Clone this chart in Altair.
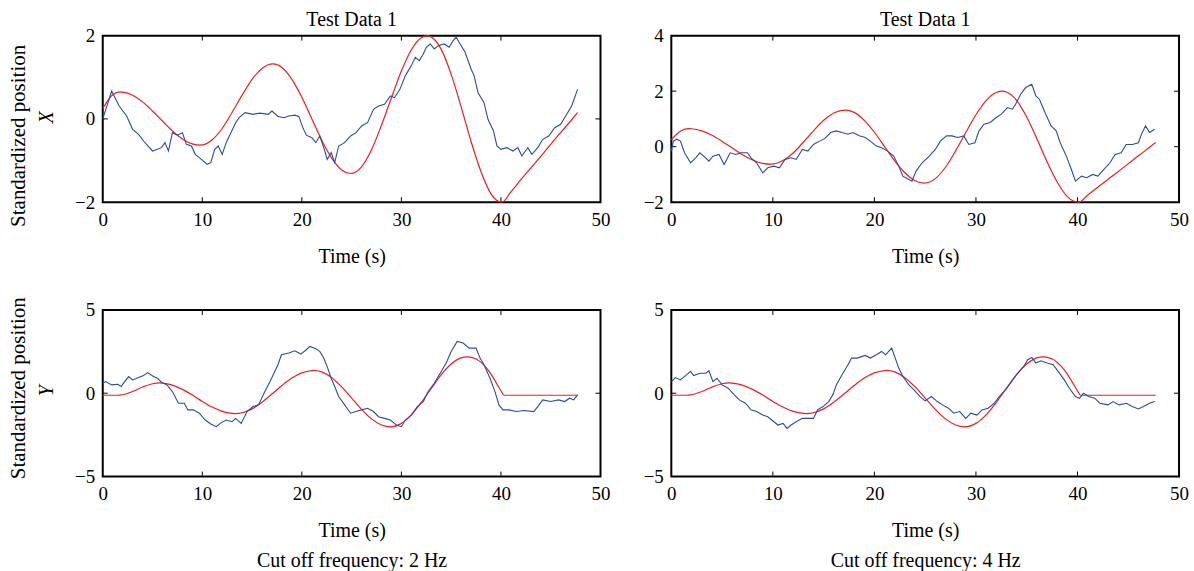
import altair as alt
import pandas as pd

FONT = "Liberation Serif"
BLUE = "#2b4ba0"
RED = "#f01c1c"

# ---------------- data ----------------
# Reference (red) curve, X position (same in both top panels)
RX_T = [0, 1, 1.7, 2, 3, 4, 5, 6, 7, 8, 9, 9.8, 11, 12, 13, 14, 15, 16, 17.1, 18,
        19, 20, 21, 22, 23, 24, 24.9, 26, 27, 28, 29, 30, 31, 32, 32.6, 33, 34, 35, 36, 37,
        38, 39, 40.1, 41, 42, 43, 44, 45, 46, 47, 47.7]
RX_V = [0.25, 0.58, 0.65, 0.645, 0.57, 0.41, 0.19, -0.05, -0.29, -0.48,
        -0.60, -0.63, -0.50, -0.23, 0.16, 0.57, 0.95, 1.21, 1.32, 1.235,
        0.95, 0.52, 0.005, -0.51, -0.94, -1.225, -1.31, -1.15, -0.74, -0.15,
        0.51, 1.15, 1.66, 1.95, 2.0, 1.97, 1.67, 1.07, 0.29, -0.54,
        -1.27, -1.80, -2.0, -1.75, -1.46, -1.18, -0.90, -0.61, -0.33, -0.05, 0.15]

# Reference (red) curve, Y position (same in both bottom panels)
RY_T = [0, 1.5, 2, 3, 4, 5, 5.7, 6, 7, 8, 9, 10, 11, 12, 13, 13.3, 14, 15, 16, 17,
        18, 19, 20, 21, 21.2, 22, 23, 24, 25, 26, 27, 28, 28.9, 30, 31, 32, 33, 34, 35, 36,
        36.6, 37.5, 38, 38.5, 39, 39.5, 40, 40.3, 47.7]
RY_V = [-0.12, -0.12, -0.09, 0.10, 0.37, 0.57, 0.62, 0.61, 0.49, 0.23,
        -0.11, -0.49, -0.83, -1.09, -1.21, -1.22, -1.17, -0.94, -0.54, -0.05,
        0.46, 0.91, 1.22, 1.36, 1.37, 1.28, 0.93, 0.38, -0.29, -0.97,
        -1.54, -1.91, -2.02, -1.81, -1.30, -0.55, 0.29, 1.11, 1.75, 2.12,
        2.18, 2.05, 1.85, 1.55, 1.15, 0.65, 0.15, -0.12, -0.12]

# Measured (blue) X, cut-off 2 Hz
B1_T = [0, 0.9, 1.65, 2.4, 3.0, 3.6, 4.1, 5.0, 5.9, 6.25,
        6.6, 7.0, 7.5, 8.0, 8.4, 8.9, 9.3, 9.9, 10.5, 10.85,
        11.25, 11.6, 12.0, 12.4, 12.8, 13.35, 13.7, 14.3, 15.1, 15.8,
        16.6, 17.0, 17.6, 18.2, 18.7, 19.3, 19.7, 20.1, 20.45, 21.0,
        21.4, 21.8, 22.2, 22.55, 22.95, 23.3, 23.7, 24.3, 24.9, 25.45,
        26.0, 26.6, 27.2, 27.7, 28.3, 28.9, 29.3, 29.85, 30.4, 31.0,
        31.4, 31.8, 32.2, 32.5, 32.9, 33.3, 33.7, 34.3, 34.8, 35.2,
        35.5, 35.8, 36.4, 37.0, 37.3, 37.7, 38.3, 38.7, 39.25, 39.6,
        40.0, 40.6, 41.2, 41.7, 42.1, 42.7, 43.1, 43.7, 44.2, 44.8,
        45.4, 46.0, 46.5, 47.1, 47.7]
B1_V = [0.0, 0.67, 0.31, 0.07, -0.25, -0.37, -0.53, -0.77, -0.69, -0.57,
        -0.77, -0.33, -0.39, -0.33, -0.61, -0.65, -0.85, -0.97, -1.09, -1.05,
        -0.73, -0.65, -0.85, -0.57, -0.37, -0.09, 0.03, 0.15, 0.11, 0.14,
        0.11, 0.19, 0.06, 0.03, 0.07, 0.09, 0.06, -0.21, -0.39, -0.45,
        -0.57, -0.41, -0.69, -0.97, -0.81, -1.05, -0.65, -0.57, -0.41, -0.33,
        -0.17, -0.09, 0.23, 0.31, 0.35, 0.55, 0.51, 0.71, 1.04, 1.28,
        1.48, 1.40, 1.56, 1.72, 1.80, 1.68, 1.76, 1.80, 1.72, 1.88,
        1.96, 1.84, 1.60, 1.20, 1.04, 0.63, 0.39, -0.01, -0.29, -0.65,
        -0.73, -0.69, -0.77, -0.69, -0.89, -0.69, -0.85, -0.69, -0.49, -0.41,
        -0.21, -0.13, 0.07, 0.31, 0.71]

# Measured (blue) X, cut-off 4 Hz
B2_T = [0, 0.2, 0.55, 0.9, 1.3, 1.9, 2.4, 2.8, 3.2, 3.7,
        4.1, 4.7, 5.2, 5.8, 6.35, 6.9, 7.5, 7.85, 8.4, 9.0,
        9.5, 10.1, 10.65, 11.2, 11.8, 12.3, 12.9, 13.45, 14.0, 14.6,
        15.1, 15.7, 16.25, 16.8, 17.4, 17.9, 18.5, 19.1, 19.6, 20.2,
        20.7, 21.3, 21.9, 22.4, 22.8, 23.4, 23.7, 24.1, 24.7, 25.4,
        26.0, 26.5, 27.1, 27.65, 28.2, 28.8, 29.3, 29.9, 30.3, 30.8,
        31.4, 32.0, 32.5, 33.1, 33.6, 34.0, 34.4, 34.9, 35.5, 35.9,
        36.25, 36.8, 37.4, 37.9, 38.3, 38.9, 39.4, 39.8, 40.4, 40.9,
        41.5, 42.0, 42.6, 43.2, 43.7, 44.3, 44.8, 45.4, 46.0, 46.3,
        46.7, 47.1, 47.6]
B2_V = [-0.16, 0.20, 0.27, 0.20, -0.22, -0.58, -0.40, -0.22, -0.34, -0.52,
        -0.34, -0.28, -0.64, -0.22, -0.28, -0.22, -0.22, -0.40, -0.58, -0.94,
        -0.76, -0.70, -0.76, -0.46, -0.40, -0.46, -0.10, -0.16, 0.08, 0.20,
        0.29, 0.51, 0.57, 0.51, 0.45, 0.51, 0.39, 0.33, 0.20, 0.02,
        -0.04, -0.16, -0.34, -0.70, -1.06, -1.18, -1.24, -0.88, -0.58, -0.34,
        -0.10, 0.20, 0.39, 0.39, 0.33, 0.39, 0.08, 0.14, 0.57, 0.81,
        0.87, 1.05, 1.17, 1.41, 1.35, 1.59, 1.89, 2.13, 2.25, 1.83,
        1.71, 1.23, 0.75, 0.57, 0.14, -0.34, -0.82, -1.24, -1.06, -1.12,
        -1.00, -1.06, -0.82, -0.58, -0.28, -0.22, 0.08, 0.08, 0.14, 0.45,
        0.75, 0.51, 0.63]

# Measured (blue) Y, cut-off 2 Hz
B3_T = [0, 0.3, 0.9, 1.5, 1.85, 2.2, 2.6, 3.0, 3.6, 4.1,
        4.5, 5.1, 5.5, 5.9, 6.45, 7.0, 7.6, 8.2, 8.55, 9.1,
        9.7, 10.3, 10.85, 11.4, 11.8, 12.4, 13.0, 13.35, 13.9, 14.5,
        15.1, 15.65, 16.2, 16.8, 17.2, 17.6, 17.95, 18.7, 19.3, 19.9,
        20.45, 20.8, 21.4, 21.8, 22.2, 22.6, 22.95, 23.3, 23.7, 24.3,
        24.9, 25.4, 26.0, 26.6, 27.2, 27.7, 28.3, 28.9, 29.5, 30.0,
        30.4, 31.0, 31.6, 32.2, 32.7, 33.3, 33.9, 34.5, 35.0, 35.6,
        36.2, 36.8, 37.5, 37.9, 38.3, 38.9, 39.4, 39.8, 40.2, 40.8,
        41.55, 42.3, 43.3, 43.7, 44.2, 45.0, 45.8, 46.4, 46.9, 47.3,
        47.7]
B3_V = [0.60, 0.70, 0.50, 0.54, 0.40, 0.70, 1.00, 0.80, 0.94, 1.06,
        1.24, 1.00, 0.90, 0.66, 0.50, 0.10, -0.60, -0.60, -1.00, -1.00,
        -1.20, -1.61, -1.85, -2.01, -1.81, -1.61, -1.71, -1.51, -1.81, -1.10,
        -0.80, -0.70, 0.00, 0.70, 1.20, 1.71, 2.31, 2.41, 2.55, 2.35,
        2.61, 2.81, 2.67, 2.51, 2.11, 1.51, 0.90, 0.40, -0.20, -0.70,
        -1.20, -1.10, -1.00, -0.90, -1.10, -1.41, -1.51, -1.61, -1.91, -2.01,
        -1.61, -1.31, -0.80, -0.50, 0.10, 0.60, 1.20, 1.81, 2.51, 3.11,
        3.01, 2.71, 2.71, 2.11, 1.71, 0.90, 0.10, -0.70, -1.00, -1.00,
        -1.10, -1.04, -1.10, -0.80, -0.40, -0.50, -0.40, -0.50, -0.30, -0.40,
        -0.10]

# Measured (blue) Y, cut-off 4 Hz
B4_T = [0, 0.4, 0.9, 1.5, 1.9, 2.2, 2.8, 3.4, 3.7, 4.1,
        4.5, 5.0, 5.6, 6.2, 6.7, 7.3, 7.85, 8.4, 9.0, 9.5,
        10.1, 10.5, 11.0, 11.4, 11.8, 12.3, 12.9, 13.45, 14.0, 14.4,
        14.95, 15.5, 15.9, 16.25, 16.8, 17.4, 17.75, 18.3, 19.1, 19.6,
        20.2, 20.7, 21.1, 21.7, 22.05, 22.4, 22.8, 23.4, 23.9, 24.5,
        25.0, 25.6, 26.2, 26.7, 27.3, 27.8, 28.4, 29.0, 29.5, 30.1,
        30.6, 31.2, 31.8, 32.3, 32.9, 33.5, 34.1, 34.7, 35.1, 35.5,
        35.9, 36.4, 37.0, 37.6, 38.1, 38.7, 39.2, 39.8, 40.2, 40.6,
        41.1, 41.7, 42.2, 43.0, 43.5, 44.1, 44.8, 45.4, 46.0, 46.5,
        47.1, 47.6]
B4_V = [0.70, 0.94, 0.80, 1.10, 1.31, 1.06, 1.20, 1.20, 1.35, 0.70,
        0.90, 0.50, 0.30, -0.10, -0.40, -0.60, -1.00, -1.10, -1.31, -1.41,
        -1.71, -1.91, -1.81, -2.11, -1.91, -1.71, -1.51, -1.51, -1.51, -1.00,
        -0.80, -0.50, -0.10, 0.50, 1.10, 1.71, 2.11, 2.11, 2.27, 2.11,
        2.31, 2.51, 2.31, 2.71, 2.11, 1.51, 1.00, 0.50, 0.20, -0.20,
        -0.46, -0.20, -0.50, -0.70, -0.90, -1.20, -1.10, -1.51, -1.20, -1.31,
        -1.00, -0.90, -0.60, -0.20, 0.20, 0.70, 1.20, 1.61, 2.01, 2.15,
        1.81, 1.95, 1.81, 1.71, 1.31, 0.80, 0.30, -0.20, -0.30, 0.00,
        -0.20, -0.30, -0.60, -0.70, -0.50, -0.70, -0.60, -0.80, -0.94, -0.80,
        -0.60, -0.50]

X_TICKS = [0, 10, 20, 30, 40, 50]
X_INNER = [10, 20, 30, 40]

for a, b in [(RX_T, RX_V), (RY_T, RY_V), (B1_T, B1_V), (B2_T, B2_V), (B3_T, B3_V), (B4_T, B4_V)]:
    assert len(a) == len(b), (len(a), len(b))

W_L, W_R, H = 499, 509, 167


def panel(bt, bv, rt, rv, ydom, yticks, w, title=None, ylabel=None, yvar=None,
          xtitle="Time (s)", ytitle_y=None, var_y=None):
    xs = alt.Scale(domain=[0, 50], nice=False, zero=False)
    ys = alt.Scale(domain=ydom, nice=False, zero=False)
    xaxis_kw = dict(values=X_TICKS, ticks=False, domain=False, grid=False,
                    labelPadding=8, format="d", labelFlush=False,
                    title=xtitle, titleBaseline="top", titleY=44, titleLineHeight=30)
    yaxis_kw = dict(values=yticks, ticks=False, domain=False, grid=False,
                    labelPadding=8, format="d")
    if ylabel is not None:
        yaxis_kw.update(title=ylabel, titleX=-84, titleY=ytitle_y, titleAngle=270,
                        titleBaseline="middle", titleAlign="center", titleFontSize=21)
    else:
        yaxis_kw.update(title=None)
    X = alt.X("t:Q", scale=xs, axis=alt.Axis(**xaxis_kw))
    Y = alt.Y("v:Q", scale=ys, axis=alt.Axis(**yaxis_kw))

    blue = alt.Chart(pd.DataFrame({"t": bt, "v": bv})).mark_line(
        color=BLUE, strokeWidth=1.1).encode(x=X, y=Y)
    red = alt.Chart(pd.DataFrame({"t": rt, "v": rv})).mark_line(
        color=RED, strokeWidth=1.2, interpolate="monotone").encode(x=X, y=Y)

    xt = pd.DataFrame({"t": X_INNER})
    yin = [v for v in yticks if v not in ydom]
    yt = pd.DataFrame({"v": yin})
    tk_top = alt.Chart(xt).mark_rule(color="black", strokeWidth=1).encode(
        x=X, y=alt.value(0), y2=alt.value(5))
    tk_bot = alt.Chart(xt).mark_rule(color="black", strokeWidth=1).encode(
        x=X, y=alt.value(H), y2=alt.value(H - 5))
    tk_l = alt.Chart(yt).mark_rule(color="black", strokeWidth=1).encode(
        y=Y, x=alt.value(0), x2=alt.value(5))
    tk_r = alt.Chart(yt).mark_rule(color="black", strokeWidth=1).encode(
        y=Y, x=alt.value(w), x2=alt.value(w - 5))

    layers = [tk_top, tk_bot, tk_l, tk_r, red, blue]
    if yvar is not None:
        lab = alt.Chart(pd.DataFrame({"s": [yvar]})).mark_text(
            font=FONT, fontSize=20, fontStyle="italic", angle=270, color="black",
            baseline="middle", align="center").encode(
            text="s:N", x=alt.value(-56), y=alt.value(var_y))
        layers.append(lab)
    ch = alt.layer(*layers).properties(width=w, height=H)
    if title is not None:
        ch = ch.properties(title=alt.TitleParams(title, offset=-3, fontSize=20,
                                                 font=FONT, fontWeight="normal",
                                                 color="black"))
    return ch


p1 = panel(B1_T, B1_V, RX_T, RX_V, [-2, 2], [-2, 0, 2], W_L, title="Test Data 1",
           ylabel="Standardized position", yvar="X", ytitle_y=100, var_y=82)
p2 = panel(B2_T, B2_V, RX_T, RX_V, [-2, 4], [-2, 0, 2, 4], W_R, title="Test Data 1")
p3 = panel(B3_T, B3_V, RY_T, RY_V, [-5, 5], [-5, 0, 5], W_L,
           ylabel="Standardized position", yvar="Y", ytitle_y=78, var_y=81,
           xtitle=["Time (s)", "Cut off frequency: 2 Hz"])
p4 = panel(B4_T, B4_V, RY_T, RY_V, [-5, 5], [-5, 0, 5], W_R,
           xtitle=["Time (s)", "Cut off frequency: 4 Hz"])

chart = alt.concat(p1, p2, p3, p4, columns=2,
                   spacing={"row": 108, "column": 71}, bounds="flush").properties(
    padding={"left": 7, "top": 8, "right": 4, "bottom": 0},
    background="white",
).configure_view(
    stroke="black", strokeWidth=2
).configure_axis(
    labelFont=FONT, labelFontSize=19, labelColor="black",
    titleFont=FONT, titleFontSize=20, titleColor="black", titleFontWeight="normal",
)

chart.save("out.html", embed_options={"renderer": "svg", "actions": False})
